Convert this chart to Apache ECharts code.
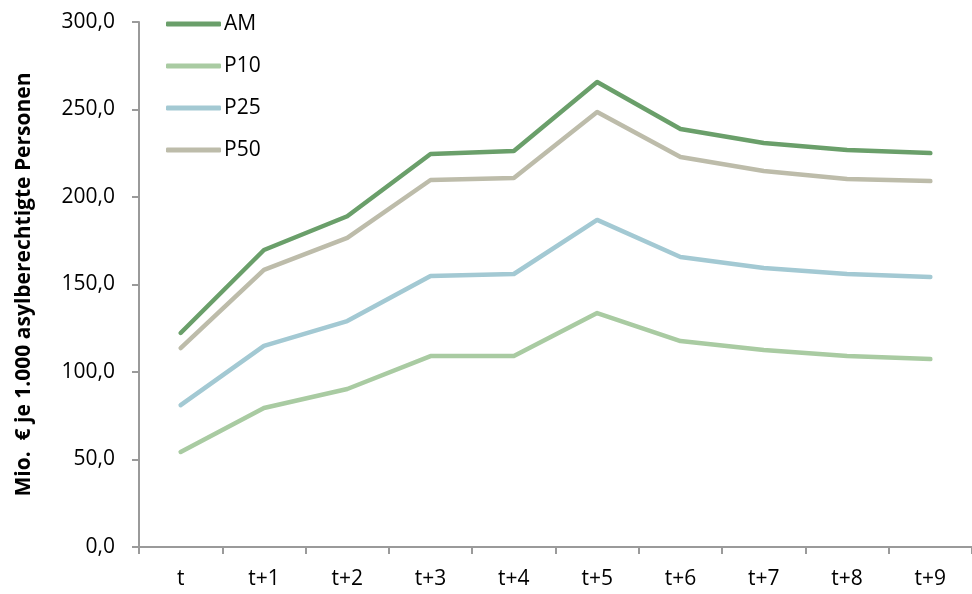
<!DOCTYPE html>
<html><head><meta charset="utf-8">
<script src="https://cdn.jsdelivr.net/npm/echarts@6/dist/echarts.min.js"></script>
<style>html,body{margin:0;padding:0;background:#fff}#c{width:972px;height:594px}</style>
</head><body><div id="c"></div>
<script>
const categories = ['t','t+1','t+2','t+3','t+4','t+5','t+6','t+7','t+8','t+9'];
const seriesNames = ['AM','P10','P25','P50'];
const AM  = [122.3,169.7,189.0,224.6,226.3,265.7,238.9,230.9,226.9,225.1];
const P10 = [54.3,79.4,90.3,109.1,109.1,133.7,117.7,112.6,109.1,107.4];
const P25 = [81.1,114.9,129.1,154.9,156.0,186.9,165.7,159.4,156.0,154.3];
const P50 = [113.7,158.3,176.6,209.7,210.9,248.6,222.9,214.9,210.3,209.1];
const colors = ['#6a9f6a','#a9cba2','#a3c9d3','#bdbcaa'];
const dataSets = [AM,P10,P25,P50];
const font = '"Open Sans", "Liberation Sans", sans-serif';
const chart = echarts.init(document.getElementById('c'));
chart.setOption({
  animation:false,
  color:colors,
  grid:{left:139,right:-6,top:22,bottom:47,containLabel:false},
  legend:{
    orient:'vertical', left:161, top:8, itemGap:20, itemWidth:55, itemHeight:5,
    icon:'roundRect',
    textStyle:{fontFamily:font,fontSize:21,lineHeight:22,color:'#000',padding:[0,0,0,-2]},
    data:seriesNames
  },
  xAxis:{
    type:'category', data:categories, boundaryGap:true,
    axisLine:{lineStyle:{color:'#9a9a9a',width:2}},
    axisTick:{show:true,length:7,lineStyle:{color:'#9a9a9a',width:2}},
    axisLabel:{fontFamily:font,fontSize:21,color:'#000',margin:22}
  },
  yAxis:{
    type:'value', min:0, max:300, interval:50,
    name:'Mio.  € je 1.000 asylberechtigte Personen', nameLocation:'middle', nameGap:104,
    nameTextStyle:{fontFamily:font,fontSize:21,fontWeight:'bold',color:'#000'},
    axisLine:{show:true,lineStyle:{color:'#9a9a9a',width:2}},
    axisTick:{show:true,length:7,lineStyle:{color:'#9a9a9a',width:2}},
    splitLine:{show:false},
    axisLabel:{fontFamily:font,fontSize:21,color:'#000',margin:24,
      formatter:v=>v.toFixed(1).replace('.',',')}
  },
  series:seriesNames.map((n,i)=>({
    name:n, type:'line', data:dataSets[i], symbol:'none',
    lineStyle:{width:4.5,color:colors[i],cap:'round',join:'round'},
    itemStyle:{color:colors[i]}
  }))
});
</script></body></html>
